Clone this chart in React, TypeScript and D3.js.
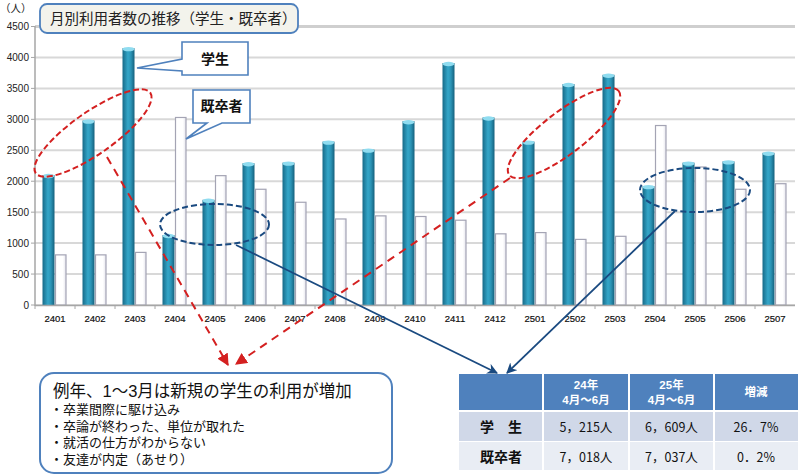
import React from 'react';
import * as d3 from 'd3';

const categories = ['2401','2402','2403','2404','2405','2406','2407','2408','2409','2410','2411','2412','2501','2502','2503','2504','2505','2506','2507'];
const students = [2100, 2980, 4150, 1130, 1700, 2290, 2300, 2640, 2510, 2970, 3910, 3030, 2640, 3570, 3720, 1920, 2300, 2320, 2460];
const graduates = [810, 810, 850, 3030, 2090, 1870, 1660, 1390, 1440, 1430, 1370, 1150, 1170, 1060, 1110, 2900, 2230, 1870, 1960];
const yTicks = [0, 500, 1000, 1500, 2000, 2500, 3000, 3500, 4000, 4500];

const chartTitle = '月別利用者数の推移（学生・既卒者）';
const unitLabel = '（人）';
const studentLabel = '学生';
const gradLabel = '既卒者';
const noteTitle = '例年、1～3月は新規の学生の利用が増加';
const noteItems = ['・卒業間際に駆け込み', '・卒論が終わった、単位が取れた', '・就活の仕方がわからない', '・友達が内定（あせり）'];
const tableHeader = [['24年', '4月～6月'], ['25年', '4月～6月'], ['増減']];
const tableRows = [
  ['学　生', '5，215人', '6，609人', '26．7%'],
  ['既卒者', '7，018人', '7，037人', '0．2%'],
];

const JP = '"Noto Sans CJK JP", "Noto Sans", sans-serif';
const JPL = '"Liberation Sans", "Noto Sans CJK JP", sans-serif';
const NUM = '"Liberation Sans", Arial, sans-serif';

export default function App() {
  const x = d3.scaleBand<string>().domain(categories).range([35, 795]).padding(0);
  const y = d3.scaleLinear().domain([0, 4500]).range([305, 26.5]);
  const bw = 12;

  const tableCols = [459, 543, 629, 714, 798];
  const rowsY = [374, 411, 442, 471];

  return (
    <div style={{ position: 'absolute', left: 0, top: 0 }}>
      <svg width={800} height={475} style={{ display: 'block', background: '#fff' }}>
        <defs>
          <linearGradient id="teal" x1="0" x2="1" y1="0" y2="0">
            <stop offset="0" stopColor="#176a88" />
            <stop offset="0.45" stopColor="#34a6c8" />
            <stop offset="0.7" stopColor="#2b94b6" />
            <stop offset="1" stopColor="#15607c" />
          </linearGradient>
          <linearGradient id="white" x1="0" x2="1" y1="0" y2="0">
            <stop offset="0" stopColor="#ffffff" />
            <stop offset="0.7" stopColor="#ffffff" />
            <stop offset="1" stopColor="#e4e4ec" />
          </linearGradient>
          <marker id="redArrow" viewBox="0 0 10 10" refX="9" refY="5" markerWidth="6" markerHeight="6" orient="auto">
            <path d="M0,0 L10,5 L0,10 z" fill="#d42020" />
          </marker>
          <marker id="blueArrow" viewBox="0 0 10 10" refX="9" refY="5" markerWidth="6" markerHeight="6" orient="auto">
            <path d="M0,0 L10,5 L0,10 L3,5 z" fill="#1a4a80" />
          </marker>
        </defs>

        {/* gridlines */}
        {yTicks.map((t) => (
          <line key={'g' + t} x1={35} x2={795} y1={y(t)} y2={y(t)} stroke={t === 4500 ? '#cfcfcf' : '#d8d8d8'} strokeWidth={t === 4500 ? 3 : 2} />
        ))}
        {/* y axis */}
        <line x1={35} x2={35} y1={26} y2={306} stroke="#a6a6a6" strokeWidth={1.5} />
        {yTicks.map((t) => (
          <g key={'yt' + t}>
            <line x1={31} x2={35} y1={y(t)} y2={y(t)} stroke="#a6a6a6" />
            <text x={29} y={y(t) + 3.5} textAnchor="end" fontSize={10} fontFamily={NUM} fill="#222">{t}</text>
          </g>
        ))}
        <text x={0} y={12} fontSize={10.5} fontFamily={JP} fill="#222">{unitLabel}</text>

        {/* bars */}
        {categories.map((c, i) => {
          const cx = (x(c) as number) + x.bandwidth() / 2;
          const ys = y(students[i]);
          const yg = y(graduates[i]);
          return (
            <g key={c}>
              <rect x={cx - bw - 0.5} y={ys} width={bw} height={305 - ys} fill="url(#teal)" />
              <ellipse cx={cx - bw / 2 - 0.5} cy={ys + 1} rx={bw / 2} ry={2.2} fill="#8fdcf0" />
              <rect x={cx + 0.5} y={yg} width={bw - 1.5} height={305 - yg} fill="url(#white)" stroke="#a4a4b4" strokeWidth={1.2} />
            </g>
          );
        })}
        {/* x axis */}
        <line x1={35} x2={795} y1={305.5} y2={305.5} stroke="#a6a6a6" strokeWidth={1.5} />
        {categories.map((c) => (
          <line key={'xt' + c} x1={x(c) as number} x2={x(c) as number} y1={305} y2={309} stroke="#a6a6a6" />
        ))}
        {categories.map((c) => (
          <text key={'xl' + c} x={(x(c) as number) + x.bandwidth() / 2} y={322} textAnchor="middle" fontSize={9.5} fontFamily={NUM} fill="#111" stroke="#111" strokeWidth={0.2}>{c}</text>
        ))}

        {/* title box */}
        <rect x={40} y={4} width={258} height={29} rx={7} fill="#f3f3ec" stroke="#4f81bd" strokeWidth={1.8} />
        <text x={50} y={24} fontSize={14.5} fontFamily={JP} fill="#222">{chartTitle}</text>

        {/* callout 学生 */}
        <path d="M182,42 L248,42 L248,75 L182,75 L182,71 L137,68 L182,59 Z" fill="#fff" stroke="#4f81bd" strokeWidth={1.6} />
        <text x={215} y={64} textAnchor="middle" fontSize={14} fontWeight="bold" fontFamily={JP} fill="#111">{studentLabel}</text>
        {/* callout 既卒者 */}
        <path d="M193,90 L250,90 L250,123 L222,123 L186,139 L207,123 L193,123 Z" fill="#fff" stroke="#4f81bd" strokeWidth={1.6} />
        <text x={221.5} y={111} textAnchor="middle" fontSize={14} fontWeight="bold" fontFamily={JP} fill="#111">{gradLabel}</text>

        {/* red dashed ellipses & arrows */}
        <ellipse cx={93} cy={133} rx={70} ry={21} transform="rotate(-35 93 133)" fill="none" stroke="#d42020" strokeWidth={2} strokeDasharray="6 3" />
        <ellipse cx={564} cy={133} rx={69} ry={21} transform="rotate(-37.5 564 133)" fill="none" stroke="#d42020" strokeWidth={2} strokeDasharray="6 3" />
        <line x1={107} y1={157} x2={228} y2={365} stroke="#d42020" strokeWidth={2} strokeDasharray="8 6" markerEnd="url(#redArrow)" />
        <line x1={510} y1={178} x2={236} y2={364} stroke="#d42020" strokeWidth={2} strokeDasharray="8 6" markerEnd="url(#redArrow)" />

        {/* blue dashed ellipses & arrows */}
        <ellipse cx={214.5} cy={224.5} rx={54.5} ry={20.5} fill="none" stroke="#1a4a80" strokeWidth={2} strokeDasharray="6 3" />
        <ellipse cx={695} cy={190} rx={55} ry={22} fill="none" stroke="#1a4a80" strokeWidth={2} strokeDasharray="6 3" />
        <line x1={236} y1={245} x2={497} y2={373} stroke="#1a4a80" strokeWidth={1.8} markerEnd="url(#blueArrow)" />
        <line x1={675} y1={211} x2={507} y2={373} stroke="#1a4a80" strokeWidth={1.8} markerEnd="url(#blueArrow)" />

        {/* note box */}
        <rect x={40} y={373} width={352} height={100} rx={14} fill="#fff" stroke="#4f81bd" strokeWidth={2} />
        <text x={53} y={397} fontSize={16.5} fontFamily={JPL} fill="#111">{noteTitle}</text>
        {noteItems.map((t, i) => (
          <text key={t} x={50} y={414 + i * 16.5} fontSize={13} fontFamily={JPL} fill="#111">{t}</text>
        ))}

        {/* table */}
        <rect x={tableCols[0]} y={rowsY[0]} width={tableCols[4] - tableCols[0]} height={rowsY[1] - rowsY[0] - 1} fill="#4f81bd" />
        <rect x={tableCols[0]} y={rowsY[1] + 1} width={tableCols[4] - tableCols[0]} height={rowsY[2] - rowsY[1] - 2} fill="#d0d8e8" />
        <rect x={tableCols[0]} y={rowsY[2]} width={tableCols[4] - tableCols[0]} height={rowsY[3] - rowsY[2] - 1} fill="#e9edf4" />
        {tableCols.slice(1, 4).map((cx) => (
          <line key={'tc' + cx} x1={cx} x2={cx} y1={rowsY[0]} y2={rowsY[3]} stroke="#fff" strokeWidth={2} />
        ))}
        {tableHeader.map((lines, j) => {
          const cx = (tableCols[j + 1] + tableCols[j + 2]) / 2;
          return lines.length === 2 ? (
            <g key={'th' + j}>
              <text x={cx} y={389} textAnchor="middle" fontSize={11.5} fontWeight="bold" fontFamily={JPL} fill="#fff">{lines[0]}</text>
              <text x={cx} y={404} textAnchor="middle" fontSize={11.5} fontWeight="bold" fontFamily={JPL} fill="#fff">{lines[1]}</text>
            </g>
          ) : (
            <text key={'th' + j} x={cx} y={396} textAnchor="middle" fontSize={11.5} fontWeight="bold" fontFamily={JP} fill="#fff">{lines[0]}</text>
          );
        })}
        {tableRows.map((row, r) => (
          <g key={'tr' + r}>
            {row.map((cell, j) => (
              <text key={j} x={(tableCols[j] + tableCols[j + 1]) / 2} y={r === 0 ? 432 : 462} textAnchor="middle"
                fontSize={j === 0 ? 14 : 12.5} fontWeight={j === 0 ? 'bold' : 'normal'} fontFamily={JP} fill="#111">{cell}</text>
            ))}
          </g>
        ))}
      </svg>
    </div>
  );
}
